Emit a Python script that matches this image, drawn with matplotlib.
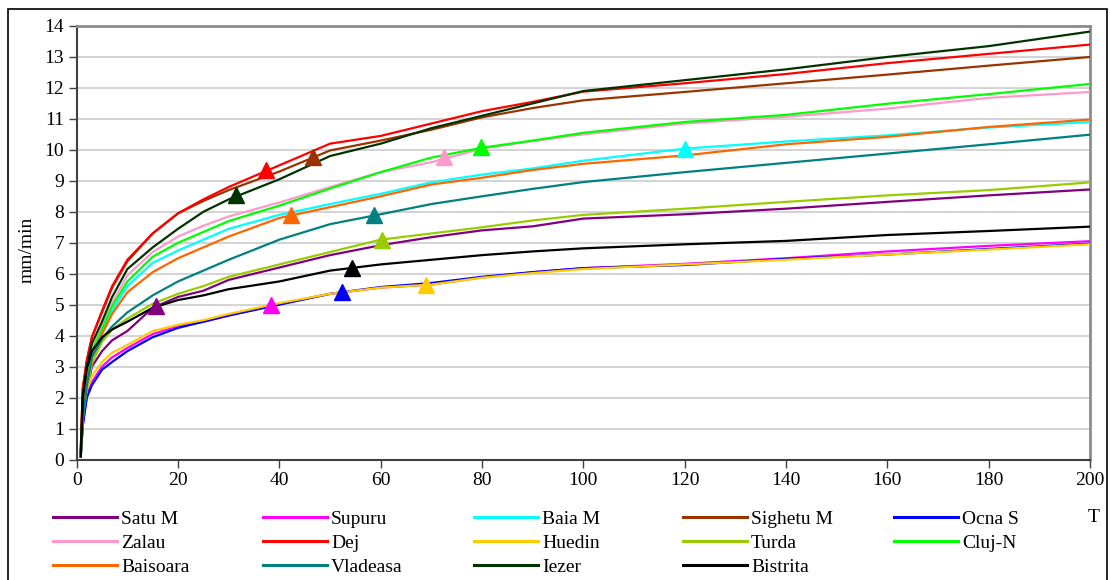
import matplotlib
matplotlib.use("Agg")
import matplotlib.pyplot as plt
from matplotlib.patches import Rectangle

# ---------------- data ----------------
T = [0.8, 1.2, 2, 3, 5, 7, 10, 15, 20, 25, 30, 40, 50, 60, 70, 80, 90, 100, 120, 140, 160, 180, 200]

satu_m   = [0.2, 1.2, 2.2, 3.0, 3.5, 3.85, 4.15, 4.9, 5.25, 5.45, 5.8, 6.2, 6.6, 6.92, 7.18, 7.4, 7.53, 7.78, 7.92, 8.1, 8.32, 8.53, 8.72]
supuru   = [0.1, 1.1, 2.05, 2.5, 3.0, 3.3, 3.6, 4.05, 4.3, 4.45, 4.65, 5.02, 5.35, 5.55, 5.65, 5.88, 6.05, 6.18, 6.32, 6.5, 6.72, 6.9, 7.05]
baia_m   = [0.1, 1.5, 2.6, 3.4, 4.15, 4.8, 5.6, 6.35, 6.75, 7.1, 7.45, 7.9, 8.25, 8.58, 8.95, 9.2, 9.4, 9.65, 10.04, 10.27, 10.47, 10.72, 10.9]
sighetu  = [0.3, 2.3, 3.2, 3.95, 4.75, 5.55, 6.4, 7.3, 7.95, 8.35, 8.7, 9.3, 9.98, 10.3, 10.65, 11.05, 11.35, 11.6, 11.87, 12.15, 12.43, 12.72, 13.0]
ocna_s   = [0.1, 1.1, 2.0, 2.4, 2.9, 3.15, 3.5, 3.95, 4.25, 4.45, 4.65, 5.0, 5.35, 5.57, 5.7, 5.9, 6.05, 6.18, 6.28, 6.48, 6.62, 6.8, 6.97]
zalau    = [0.2, 1.8, 2.8, 3.6, 4.3, 5.05, 5.95, 6.7, 7.2, 7.55, 7.85, 8.3, 8.8, 9.28, 9.6, 10.04, 10.28, 10.5, 10.85, 11.07, 11.33, 11.68, 11.87]
dej      = [0.3, 2.3, 3.2, 3.95, 4.8, 5.6, 6.45, 7.3, 7.95, 8.4, 8.8, 9.5, 10.2, 10.45, 10.85, 11.25, 11.55, 11.88, 12.15, 12.45, 12.8, 13.1, 13.4]
huedin   = [0.2, 1.6, 2.25, 2.7, 3.15, 3.45, 3.7, 4.15, 4.35, 4.5, 4.7, 5.05, 5.35, 5.55, 5.65, 5.87, 6.02, 6.15, 6.3, 6.45, 6.62, 6.78, 6.95]
turda    = [0.1, 1.3, 2.3, 3.1, 3.8, 4.2, 4.55, 5.03, 5.35, 5.6, 5.9, 6.3, 6.7, 7.1, 7.3, 7.5, 7.72, 7.9, 8.1, 8.32, 8.53, 8.7, 8.95]
cluj_n   = [0.1, 1.6, 2.7, 3.5, 4.2, 4.95, 5.75, 6.55, 7.0, 7.35, 7.7, 8.2, 8.75, 9.28, 9.75, 10.07, 10.3, 10.55, 10.9, 11.13, 11.49, 11.8, 12.13]
baisoara = [0.1, 1.5, 2.5, 3.3, 4.05, 4.7, 5.4, 6.05, 6.5, 6.85, 7.2, 7.8, 8.15, 8.5, 8.88, 9.1, 9.35, 9.55, 9.82, 10.18, 10.42, 10.74, 10.98]
vladeasa = [0.1, 1.3, 2.4, 3.3, 3.9, 4.3, 4.75, 5.3, 5.75, 6.1, 6.45, 7.1, 7.6, 7.92, 8.25, 8.5, 8.74, 8.96, 9.28, 9.58, 9.88, 10.18, 10.49]
iezer    = [0.2, 2.1, 3.0, 3.75, 4.45, 5.25, 6.15, 6.85, 7.45, 8.0, 8.4, 9.05, 9.8, 10.2, 10.7, 11.1, 11.5, 11.9, 12.25, 12.6, 13.0, 13.35, 13.82]
bistrita = [0.1, 2.0, 2.95, 3.5, 3.95, 4.2, 4.45, 4.9, 5.15, 5.3, 5.5, 5.75, 6.1, 6.3, 6.45, 6.6, 6.72, 6.82, 6.95, 7.06, 7.25, 7.38, 7.52]

names = ["Satu M", "Supuru", "Baia M", "Sighetu M", "Ocna S", "Zalau", "Dej",
         "Huedin", "Turda", "Cluj-N", "Baisoara", "Vladeasa", "Iezer", "Bistrita"]
series = [satu_m, supuru, baia_m, sighetu, ocna_s, zalau, dej,
          huedin, turda, cluj_n, baisoara, vladeasa, iezer, bistrita]
colors = ["#800080", "#FF00FF", "#00FFFF", "#993300", "#0000FF", "#FF99CC", "#FF0000",
          "#FFCC00", "#99CC00", "#00FF00", "#FF6600", "#008080", "#003300", "#000000"]

# triangle markers (one point per station)
marker_t = [15.6, 38.4, 120.0, 46.7, 52.3, 72.5, 37.3, 69.0, 60.2, 79.8, 42.3, 58.6, 31.5, 54.3]
marker_v = [4.97, 4.98, 10.04, 9.77, 5.41, 9.77, 9.34, 5.63, 7.08, 10.09, 7.91, 7.89, 8.53, 6.2]

x_ticks = list(range(0, 201, 20))
y_ticks = list(range(0, 15))

# ---------------- figure ----------------
W, H = 1110, 580
fig = plt.figure(figsize=(W / 100, H / 100), dpi=100)
plt.rcParams['font.family'] = ['Liberation Serif', 'DejaVu Serif']
FS = 14

ax = fig.add_axes([76.7 / W, 1 - 459.5 / H, (1090 - 76.7) / W, (459.5 - 26) / H])

handles = []
for name, vals, col in zip(names, series, colors):
    ln, = ax.plot(T, vals, color=col, lw=1.6, label=name, zorder=3,
                  solid_joinstyle='round')
    handles.append(ln)

for t, v, col in zip(marker_t, marker_v, colors):
    ax.plot([t], [v], marker='^', ms=11, color=col, mec=col, ls='none', zorder=5)

ax.set_xlim(0, 200)
ax.set_ylim(0, 14)
ax.set_xticks(x_ticks)
ax.set_yticks(y_ticks)
ax.tick_params(axis='both', direction='out', length=6, width=1, color='#404040',
               labelsize=FS, pad=3)
ax.yaxis.grid(True, color='#C8C8C8', lw=1.1, zorder=0)
ax.set_axisbelow(True)
for s in ['top', 'right']:
    ax.spines[s].set_color('#8C8C8C')
    ax.spines[s].set_linewidth(2)
for s in ['left', 'bottom']:
    ax.spines[s].set_color('#404040')
    ax.spines[s].set_linewidth(1.5)

fig.text(27 / W, 1 - 250 / H, "mm/min", rotation=90, ha='center', va='center', fontsize=FS)
fig.text(1094 / W, 1 - 517 / H, "T", ha='center', va='center', fontsize=FS)

# legend: five columns, each its own legend to keep even spacing
col_x = [53, 263, 474, 683, 894]
order = [[0, 5, 10], [1, 6, 11], [2, 7, 12], [3, 8, 13], [4, 9]]
for cx, idxs in zip(col_x, order):
    leg = fig.legend([handles[i] for i in idxs], [names[i] for i in idxs],
                     loc='upper left', bbox_to_anchor=(cx / W, 1 - 510 / H),
                     frameon=False, fontsize=FS, handlelength=3.3, handletextpad=0.2,
                     labelspacing=0.33, borderpad=0, borderaxespad=0)
    for lh in leg.get_lines():
        lh.set_linewidth(2.2)

# outer chart border
fig.patches.append(Rectangle((8 / W, -0.01), (1107 - 8) / W, 1 - 9 / H + 0.01,
                             transform=fig.transFigure, fill=False, ec='black', lw=1.2))

fig.savefig("out.png", dpi=100)
